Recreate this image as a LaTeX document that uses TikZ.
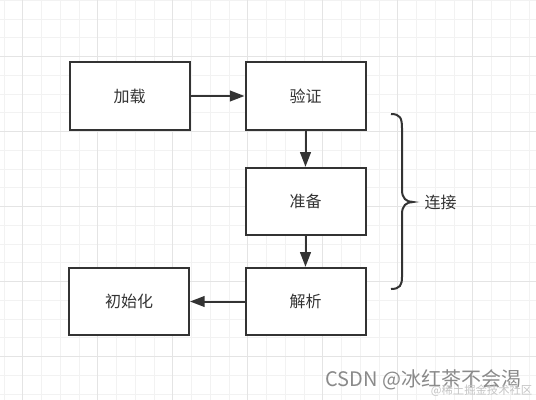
\documentclass[tikz,border=0pt]{standalone}
\usepackage{fontspec}
\setmainfont{Noto Sans CJK SC}
\usetikzlibrary{arrows.meta}
\definecolor{linegray}{HTML}{333333}
\definecolor{gridminor}{HTML}{F2F2F2}
\definecolor{gridmajor}{HTML}{E4E4E4}
\definecolor{markgray}{HTML}{8A8A8A}
\definecolor{marklight}{HTML}{C4C4C4}
\begin{document}
\begin{tikzpicture}[
    x=0.75pt, y=-0.75pt,
    block/.style={rectangle, draw=linegray, line width=1.5pt, fill=white, minimum width=90pt, minimum height=50.5pt, text=linegray, font=\fontsize{12}{14}\selectfont},
    arrow/.style={-{Triangle[length=11pt, width=8pt]}, line width=1.5pt, draw=linegray},
    brace/.style={line width=1.5pt, draw=linegray},
    minor/.style={draw=gridminor, line width=0.75pt},
    major/.style={draw=gridmajor, line width=0.75pt}
]
\useasboundingbox (0,0) rectangle (536,400);
\fill[white] (0,0) rectangle (536,400);

\foreach \i in {0,...,28} \draw[minor] ({4+18.75*\i},0) -- ({4+18.75*\i},400);
\foreach \i in {0,...,21} \draw[minor] (0,{0.25+18.75*\i}) -- (536,{0.25+18.75*\i});
\foreach \i in {0,...,6} \draw[major] ({22.75+75*\i},0) -- ({22.75+75*\i},400);
\foreach \i in {0,...,4} \draw[major] (0,{56.5+75*\i}) -- (536,{56.5+75*\i});

\node[block] (load) at (129.5, 96) {加载};
\node[block] (verify) at (305.5, 96) {验证};
\node[block] (prepare) at (305.5, 201.5) {准备};
\node[block] (resolve) at (305.5, 301.5) {解析};
\node[block] (init) at (129, 301.5) {初始化};

\draw (load) edge[arrow] (verify);
\draw (verify) edge[arrow] (prepare);
\draw (prepare) edge[arrow] (resolve);
\draw (resolve) edge[arrow] (init);

\coordinate (bracetop) at (391, 114);
\coordinate (bracetip) at (413, 202);
\coordinate (bracebot) at (391, 289);
\draw[brace] (bracetop) .. controls (400,114) and (402,118) .. (402,128) -- (402,190)
    .. controls (402,198) and (406,202) .. (bracetip)
    .. controls (406,202) and (402,206) .. (402,214) -- (402,277)
    .. controls (402,285) and (400,289) .. (bracebot);
\node[text=linegray, font=\fontsize{12}{14}\selectfont, anchor=west] (link) at (420, 202) {连接};

\node[text=markgray, font=\fontsize{15}{17}\selectfont, anchor=east] (mark) at (526, 380) {CSDN @冰红茶不会渴};
\node[text=marklight, font=\fontsize{8.5}{10}\selectfont, anchor=east] (submark) at (537, 391) {@稀土掘金技术社区};
\end{tikzpicture}
\end{document}
